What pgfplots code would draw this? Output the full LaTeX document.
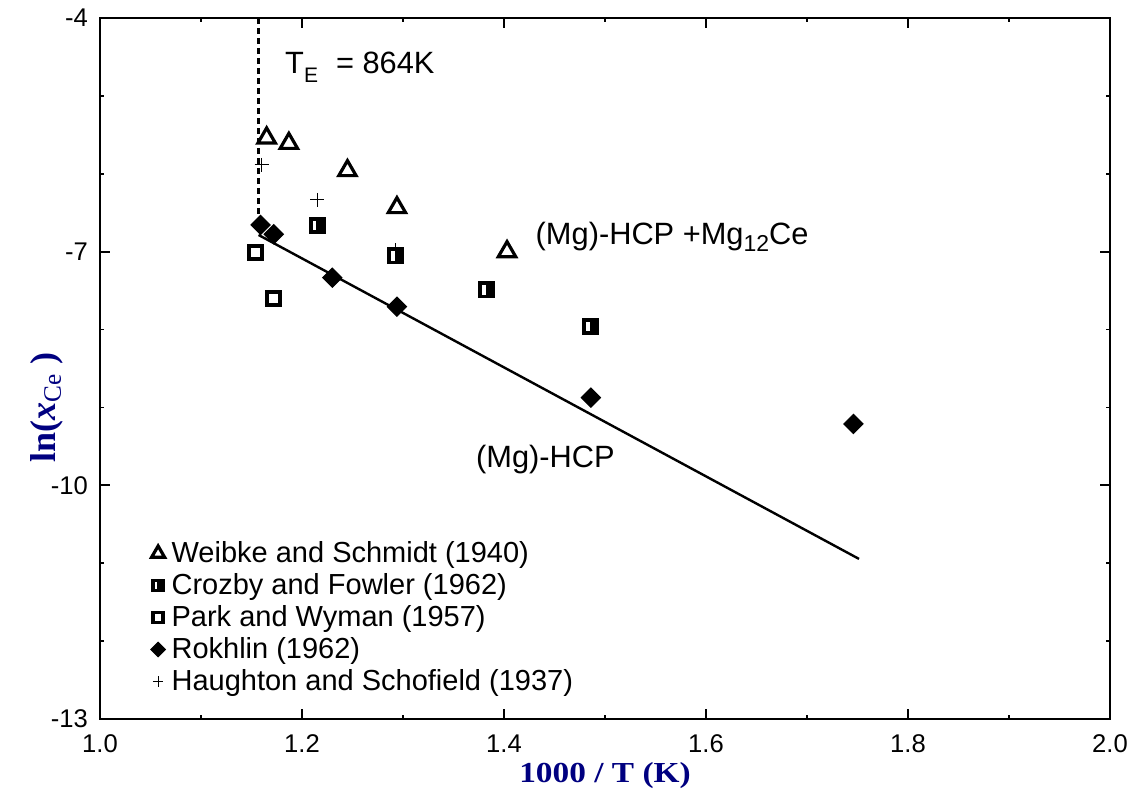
\documentclass[border=0pt]{standalone}
\usepackage{fontspec}
\setmainfont{Liberation Sans}
\newfontfamily\labelserif{Liberation Serif}
\usepackage{pgfplots}
\pgfplotsset{compat=1.18}
\usetikzlibrary{plotmarks}
\definecolor{labnavy}{RGB}{0,0,128}

\pgfdeclareplotmark{halfsq}{%
  \pgfpathrectangle{\pgfpoint{-\pgfplotmarksize}{-\pgfplotmarksize}}{\pgfpoint{2\pgfplotmarksize}{2\pgfplotmarksize}}%
  \pgfusepathqfillstroke
  \begin{pgfscope}%
  \pgfsetfillcolor{white}%
  \pgfpathrectangle{\pgfpoint{-0.7\pgfplotmarksize}{-0.72\pgfplotmarksize}}{\pgfpoint{0.5\pgfplotmarksize}{1.44\pgfplotmarksize}}%
  \pgfusepathqfill
  \end{pgfscope}%
}

\begin{document}
\begin{tikzpicture}
\begin{axis}[
  scale only axis,
  width=505pt, height=350.5pt,
  xmin=1, xmax=2, ymin=-13, ymax=-4,
  xtick={1.0,1.2,1.4,1.6,1.8,2.0},
  xticklabels={1.0,1.2,1.4,1.6,1.8,2.0},
  minor xtick={1.1,1.3,1.5,1.7,1.9},
  ytick={-13,-10,-7,-4},
  yticklabels={-13,-10,-7,-4},
  minor ytick={-12,-11,-9,-8,-6,-5},
  /pgf/number format/assume math mode=true,
  major tick length=5pt, minor tick length=2pt,
  tick style={black, line width=0.9pt},
  axis line style={line width=1pt},
  tick label style={font=\fontsize{12.8}{14}\selectfont},
  yticklabel style={xshift=-2.5pt},
  xticklabel style={yshift=-4.5pt},
  xlabel={\scalebox{1.15}[1]{\labelserif\bfseries 1000 / T (K)}},
  xlabel style={at={(axis description cs:0.5,0)}, anchor=base, yshift=-32pt,
                font=\fontsize{14.5}{16}\selectfont, text=labnavy},
  ylabel={\labelserif\bfseries ln(\textit{x}\textsubscript{\mdseries Ce}\ )},
  ylabel style={at={(axis description cs:-0.0525,0.445)}, anchor=center, rotate=0,
                font=\fontsize{18}{20}\selectfont, text=labnavy},
  legend cell align=left,
  legend style={draw=none, fill=none, at={(axis description cs:0.05,0.03)},
                anchor=south west, inner sep=0pt,
                font=\fontsize{14.5}{16}\selectfont, row sep=0pt},
  legend image code/.code={\draw[#1, every mark/.append style={scale=0.75}] plot coordinates {(0.2cm,0cm)};
                           \node[inner sep=0pt, minimum size=0pt, draw=none, fill=none] at (0.36cm,0cm) {};},
]
% phase boundary lines
\addplot[line width=1.2pt, forget plot] coordinates {(1.157,-6.786) (1.7515,-10.945)};
\addplot[line width=1.1pt, dash pattern=on 3pt off 2pt, forget plot] coordinates {(1.157,-4) (1.157,-6.62)};
% hidden plus under square
\addplot[only marks, mark=+, mark size=3.5pt, mark options={line width=0.5pt}, forget plot] coordinates {(1.293,-6.98)};

\addplot[only marks, mark=triangle, mark size=5pt, mark options={line width=1.6pt, fill=white}]
  coordinates {(1.165,-5.54) (1.187,-5.61) (1.245,-5.96) (1.294,-6.435) (1.403,-7.0)};
\addlegendentry{Weibke and Schmidt (1940)}

\addplot[only marks, mark=halfsq, mark size=3.3pt, mark options={line width=1.9pt, draw=black, fill=black}]
  coordinates {(1.215,-6.666) (1.293,-7.055) (1.383,-7.49) (1.486,-7.963)};
\addlegendentry{Crozby and Fowler (1962)}

\addplot[only marks, mark=square, mark size=3.3pt, mark options={line width=1.9pt, fill=white}]
  coordinates {(1.154,-7.008) (1.172,-7.598)};
\addlegendentry{Park and Wyman (1957)}

\addplot[only marks, mark=square*, mark size=3.4pt, mark options={rotate=45, fill=black, line width=0.5pt}]
  coordinates {(1.159,-6.657) (1.172,-6.777) (1.230,-7.334) (1.294,-7.706) (1.486,-8.874) (1.746,-9.212)};
\addlegendentry{Rokhlin (1962)}

\addplot[only marks, mark=+, mark size=3.5pt, mark options={line width=0.5pt}]
  coordinates {(1.160,-5.887) (1.215,-6.336)};
\addlegendentry{Haughton and Schofield (1937)}

\node[anchor=base west, inner sep=0pt, font=\fontsize{15.4}{18}\selectfont] at (axis cs:1.183,-4.71)
  {T\raisebox{-4.5pt}{\fontsize{10.5}{12}\selectfont E}\hspace{9pt}= 864K};
\node[anchor=base west, inner sep=0pt, font=\fontsize{15.4}{18}\selectfont] at (axis cs:1.431,-6.914)
  {(Mg)-HCP +Mg\raisebox{-3.5pt}{\fontsize{11.5}{12}\selectfont 12}Ce};
\node[anchor=base west, inner sep=0pt, font=\fontsize{15.4}{18}\selectfont] at (axis cs:1.372,-9.768)
  {(Mg)-HCP};
\end{axis}
\pgfresetboundingbox
\useasboundingbox ([xshift=-50pt,yshift=-36.5pt]current axis.south west) rectangle ([xshift=10pt,yshift=9pt]current axis.north east);
\end{tikzpicture}
\end{document}
